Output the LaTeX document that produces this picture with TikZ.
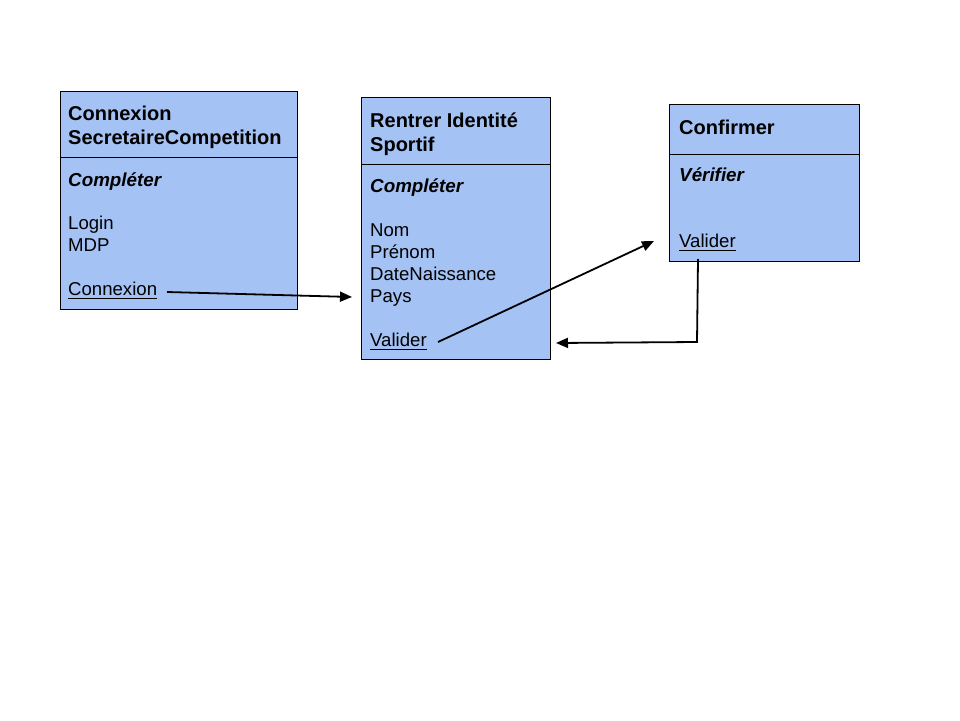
\documentclass[tikz,border=0pt]{standalone}
\usepackage{fontspec}
\setmainfont{Liberation Sans}
\usetikzlibrary{arrows.meta}
\definecolor{boxblue}{HTML}{A4C2F4}
\newcommand\myul[1]{\setbox0\hbox{#1}\rlap{\rule[-3.5pt]{\wd0}{0.9pt}}\box0}
\begin{document}
\begin{tikzpicture}[x=1pt,y=-1pt,
  boxstyle/.style={draw=black,line width=0.9pt,fill=boxblue},
  txt/.style={anchor=base west,inner sep=0pt,font=\fontsize{18.6pt}{22pt}\selectfont},
  ttl/.style={txt,font=\fontsize{20pt}{24pt}\selectfont\bfseries},
  op/.style={txt,font=\fontsize{18.8pt}{22pt}\selectfont\bfseries\itshape},
  arr/.style={-{Triangle[length=12pt,width=10pt]},line width=1.8pt}]
\useasboundingbox (0,0) rectangle (960,720);
% boxes
\path[boxstyle] (60,91) rectangle (297,309);
\draw[line width=0.9pt] (60,157) -- (297,157);
\path[boxstyle] (361,97) rectangle (550,359);
\draw[line width=0.9pt] (361,164) -- (550,164);
\path[boxstyle] (669,104) rectangle (859,261);
\draw[line width=0.9pt] (669,154) -- (859,154);
% box 1 texts
\node[ttl] (t1a) at (68,120) {Connexion};
\node[ttl] (t1b) at (68,144.5) {SecretaireCompetition};
\node[op] (o1) at (68,186) {Compléter};
\node[txt] (l1) at (68,229) {Login};
\node[txt] (l2) at (68,251) {MDP};
\node[txt] (c1) at (68,295) {\myul{Connexion}};
% box 2 texts
\node[ttl] (t2a) at (370,127) {Rentrer Identité};
\node[ttl] (t2b) at (370,151.5) {Sportif};
\node[op] (o2) at (370,192) {Compléter};
\node[txt] (n1) at (370,236) {Nom};
\node[txt] (n2) at (370,258) {Prénom};
\node[txt] (n3) at (370,280) {DateNaissance};
\node[txt] (n4) at (370,302) {Pays};
\node[txt] (v2) at (370,346) {\myul{Valider}};
% box 3 texts
\node[ttl] (t3) at (679,134) {Confirmer};
\node[op] (o3) at (679,181) {Vérifier};
\node[txt] (v3) at (679,247) {\myul{Valider}};
% connectors
\coordinate (a1s) at (167,292);
\coordinate (a1e) at (352,297);
\draw[arr] (a1s) -- (a1e);
\coordinate (a2s) at (438,342);
\coordinate (a2e) at (654,241);
\draw[arr] (a2s) -- (a2e);
\coordinate (a3s) at (698,259);
\coordinate (a3m) at (697,342);
\coordinate (a3e) at (556,343);
\draw[arr] (a3s) -- (a3m) -- (a3e);
\end{tikzpicture}
\end{document}
